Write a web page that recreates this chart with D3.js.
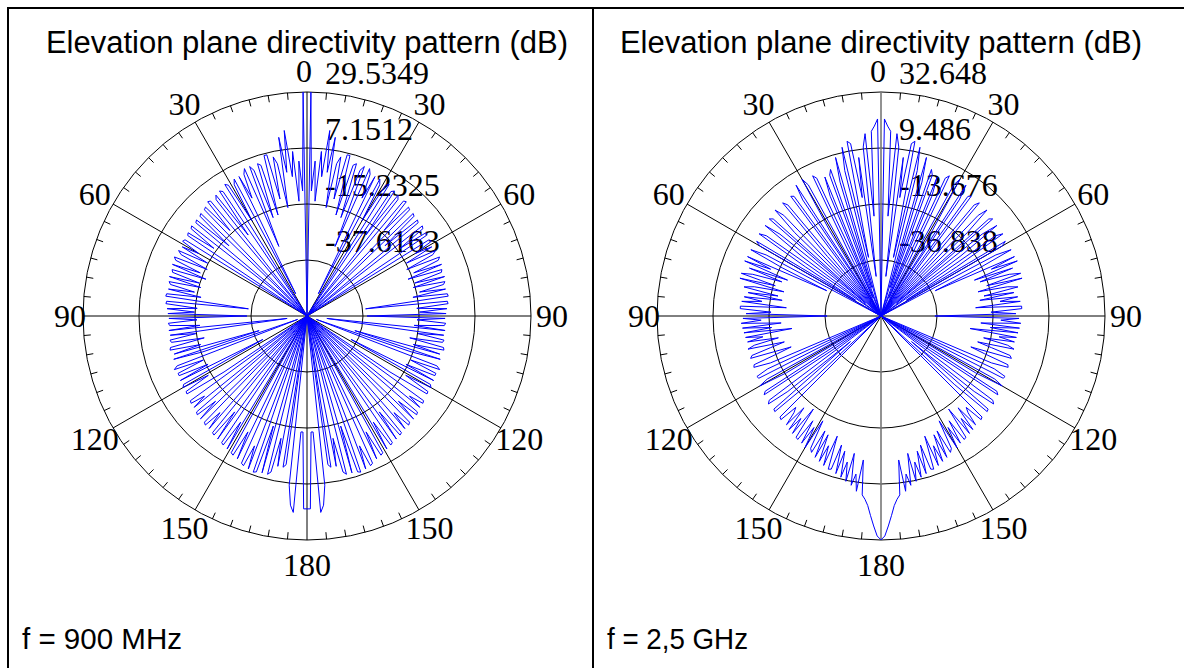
<!DOCTYPE html>
<html>
<head>
<meta charset="utf-8">
<script src="https://cdn.jsdelivr.net/npm/d3@7"></script>
<style>
  body { margin: 0; background: #fff; }
  svg { display: block; }
</style>
</head>
<body>
<svg id="chart" width="1184" height="668"></svg>
<script>
// Elevation angle samples (degrees from zenith), one per degree, 0..180.
// Each pattern is symmetric, so the same half is drawn on both sides.
const elevation = d3.range(0, 181);

// Angle labels around the dial, every 30 degrees (signed position, printed value is absolute).
const dialAngles = [-150, -120, -90, -60, -30, 0, 30, 60, 90, 120, 150, 180];

// Radial (dB) grid levels, outermost first; the centre is -60 dB.
const rings900 = [29.5349, 7.1512, -15.2325, -37.6163];
const rings2500 = [32.648, 9.486, -13.676, -36.838];
const ringText900 = ["29.5349", "7.1512", "-15.2325", "-37.6163"];
const ringText2500 = ["32.648", "9.486", "-13.676", "-36.838"];
const floorDb = -60;

// Directivity (dB) at 900 MHz, 0..180 degrees.
const gain900 = [
  -60, 29.5, -10, 2, -14, 6, -4, 14.7, -2, 12.3,
  -16, 2, 5, -12, 6.4, 6.4, -18, 3, 4, -18.4,
  2, 4, -30, 4, 2, -8, 2, -50, 2, 0,
  -16, 1, 2, -60, 0, 1, -20, 0.5, -1, -60,
  0, 0.5, -14, -0.5, -1, -60, -1, -1.5, -18, -1.5,
  -2, -60, -1.5, -2, -14, -2, -2.5, -60, -2.5, -2,
  -10, -3, -15, -2.4, -4, -16, -2, -3, -14, -2.4,
  -17, -3, -3.5, -15, -2.8, -16, -3.2, -4, -14, -3.6,
  -17, -3.2, -3, -36.4, -3.6, -3.4, -16, -4, -15, -4.4,
  -36, -4.8, -16, -4.5, -5, -17, -4.5, -52, -4.8, -15,
  -4.4, -4.8, -18, -4, -3.6, -16, -4.8, -40, -4, -16,
  -56, -4.4, -2.8, -15, -3.6, -3.6, -16, -3.2, -40, -3.6,
  -2.8, -14, -3, -2.8, -20, -60, -2.4, -2, -8, -2,
  -60, -1.5, -1, -10, -0.8, -60, -1, -0.4, -8, -0.4,
  -60, 0, 0.4, -12, 0.8, -60, 1, 1.5, -10, 2,
  -60, 2.5, 3, -8, 3.5, -60, 4.4, 5, -4, 5.5,
  -60, 6, 5.5, -14, 5.2, -60, 5.2, 4, -10, 1.2,
  -60, 1.2, 0, -60, 8, 15.9, 18.7, -13.6, -13.6, 17.1,
  17.1
];

// Directivity (dB) at 2.5 GHz, 0..180 degrees.
const gain2500 = [
  -60, 21.5, 18.6, 16.5, -18.6, 15.7, 10.3, -43.5, 6.2, -10.4,
  12.4, 13.6, -35.2, 11.6, 2.0, -60, 8.2, -2.1, -47.6, 4.1,
  2.0, -60, 2.0, -6.2, -51.7, 2.9, 4.5, -35.2, -60, 2.0,
  5.3, -18.6, -60, 4.5, -2.1, -60, 1.2, 2.0, -43.5, -60,
  0.0, 2.0, -26.9, -60, -2.1, 2.0, -10.4, -60, 0.0, 1.2,
  -51.7, -6.2, 0.8, -18.6, -60, -2.1, 0.8, -22.8, -47.6, 0.0,
  -2.1, -60, -6.2, 0.4, -14.5, -35.2, 0.4, -10.4, 0.8, -18.6,
  -2.1, -16.6, -4.2, 0.4, -14.5, 0.4, -18.6, -6.2, -2.1, -16.6,
  -4.2, -18.6, -2.9, -10.4, -2.1, -20.7, -1.7, -1.7, -14.5, -4.2,
  -37.7, -2.9, -10.4, -2.1, -18.6, -2.5, -14.5, -2.9, -22.8, -3.3,
  -10.4, -3.8, -16.6, -6.2, -3.3, -18.6, -12.4, -4.2, -3.3, -20.7,
  -14.5, -3.8, -3.3, -10.4, -60, -8.3, -2.9, -3.3, -60, -6.2,
  -2.1, -14.5, -60, -2.9, -1.7, -35.2, -60, -2.1, -0.9, -10.4,
  -43.5, -1.3, -0.9, -18.6, -60, -0.9, -0.4, -8.3, -6.2, -0.4,
  -10.4, 0.4, -6.2, 0.8, -12.4, 1.2, 1.6, -8.3, 2.0, -6.2,
  2.9, -10.4, 2.0, 3.3, -7.1, 4.5, -6.2, 5.3, -2.1, 6.2,
  -7.1, 7.0, 6.6, -4.2, 7.8, -2.1, 8.7, 2.0, 9.9, -2.1,
  11.1, 6.2, 13.2, 0.0, 14.4, 16.1, 18.6, 22.7, 26.9, 31.0,
  32.6
];

const FONT_SANS = "'Liberation Sans', Arial, sans-serif";
const FONT_SERIF = "'Liberation Serif', 'Times New Roman', serif";
const svg = d3.select("#chart");

// Table frame: top rule, left rule and the divider between the two cells.
const frame = svg.append("g").attr("stroke", "#000").attr("stroke-width", 2);
frame.append("line").attr("x1", 7).attr("y1", 8).attr("x2", 1184).attr("y2", 8);
frame.append("line").attr("x1", 8).attr("y1", 7).attr("x2", 8).attr("y2", 668);
frame.append("line").attr("x1", 593).attr("y1", 7).attr("x2", 593).attr("y2", 668);

function drawPanel(opts) {
  const { cx, cy, R, rings, ringText, gains, caption, captionX, captionW, axisColor } = opts;
  const g = svg.append("g").attr("transform", `translate(${cx},${cy})`);
  const r = d3.scaleLinear().domain([floorDb, rings[0]]).range([0, R]).clamp(true);
  const rad = d => d * Math.PI / 180;

  // Title
  svg.append("text")
    .attr("x", cx).attr("y", 53)
    .attr("text-anchor", "middle")
    .style("font-family", FONT_SANS).style("font-size", "31px")
    .text("Elevation plane directivity pattern (dB)");

  // Rings
  g.append("g").selectAll("circle").data(rings).join("circle")
    .attr("r", d => r(d))
    .attr("fill", "none").attr("stroke", "#000").attr("stroke-width", 1);

  // Spokes every 30 degrees
  g.append("g").selectAll("line").data(d3.range(0, 360, 30)).join("line")
    .attr("x1", 0).attr("y1", 0)
    .attr("x2", d => R * Math.sin(rad(d)))
    .attr("y2", d => -R * Math.cos(rad(d)))
    .attr("stroke", d => (d % 180 === 0 ? axisColor : "#000"))
    .attr("stroke-width", d => (d % 180 === 0 && axisColor !== "#000" ? 1.6 : 1));

  // Minor ticks every 5 degrees, pointing inward from the outer ring
  const ticks = d3.range(0, 360, 5).filter(d => d % 30 !== 0);
  g.append("g").selectAll("line").data(ticks).join("line")
    .attr("x1", d => R * Math.sin(rad(d)))
    .attr("y1", d => -R * Math.cos(rad(d)))
    .attr("x2", d => (R - 7) * Math.sin(rad(d)))
    .attr("y2", d => -(R - 7) * Math.cos(rad(d)))
    .attr("stroke", "#000").attr("stroke-width", 1);

  // Dial labels, centred just outside the outer ring
  const labR = d => (d === -90 ? R + 13 : R + 21);
  g.append("g").selectAll("text").data(dialAngles).join("text")
    .attr("x", d => labR(d) * Math.sin(rad(d)) + (d === 0 ? -3 : 0))
    .attr("y", d => -labR(d) * Math.cos(rad(d)) + 11 + (d === 180 ? 4 : 0))
    .attr("text-anchor", "middle")
    .style("font-family", FONT_SERIF).style("font-size", "32px")
    .text(d => Math.abs(d));

  // Ring value labels
  g.append("g").selectAll("text").data(rings).join("text")
    .attr("x", 18)
    .attr("y", d => -r(d) - 8)
    .style("font-family", FONT_SERIF).style("font-size", "32px")
    .text((d, i) => ringText[i]);

  // Pattern: right half 0..180, then the mirrored left half back to 0
  const pts = elevation.map((a, i) => [rad(a), r(gains[i])])
    .concat(elevation.slice().reverse().map((a) => [rad(-a), r(gains[a])]));
  g.append("path")
    .attr("d", d3.lineRadial()(pts))
    .attr("fill", "none").attr("stroke", "#0000ff").attr("stroke-width", 1)
    .attr("stroke-linejoin", "miter");

  // Caption
  svg.append("text")
    .attr("x", captionX).attr("y", 649)
    .attr("textLength", captionW).attr("lengthAdjust", "spacingAndGlyphs")
    .style("font-family", FONT_SANS).style("font-size", "29px")
    .text(caption);
}

drawPanel({ cx: 307, cy: 316, R: 224, rings: rings900, ringText: ringText900,
  gains: gain900, caption: "f = 900 MHz", captionX: 22, captionW: 160, axisColor: "#000" });
drawPanel({ cx: 881, cy: 316, R: 224, rings: rings2500, ringText: ringText2500,
  gains: gain2500, caption: "f = 2,5 GHz", captionX: 607, captionW: 141, axisColor: "#777" });
</script>
</body>
</html>
